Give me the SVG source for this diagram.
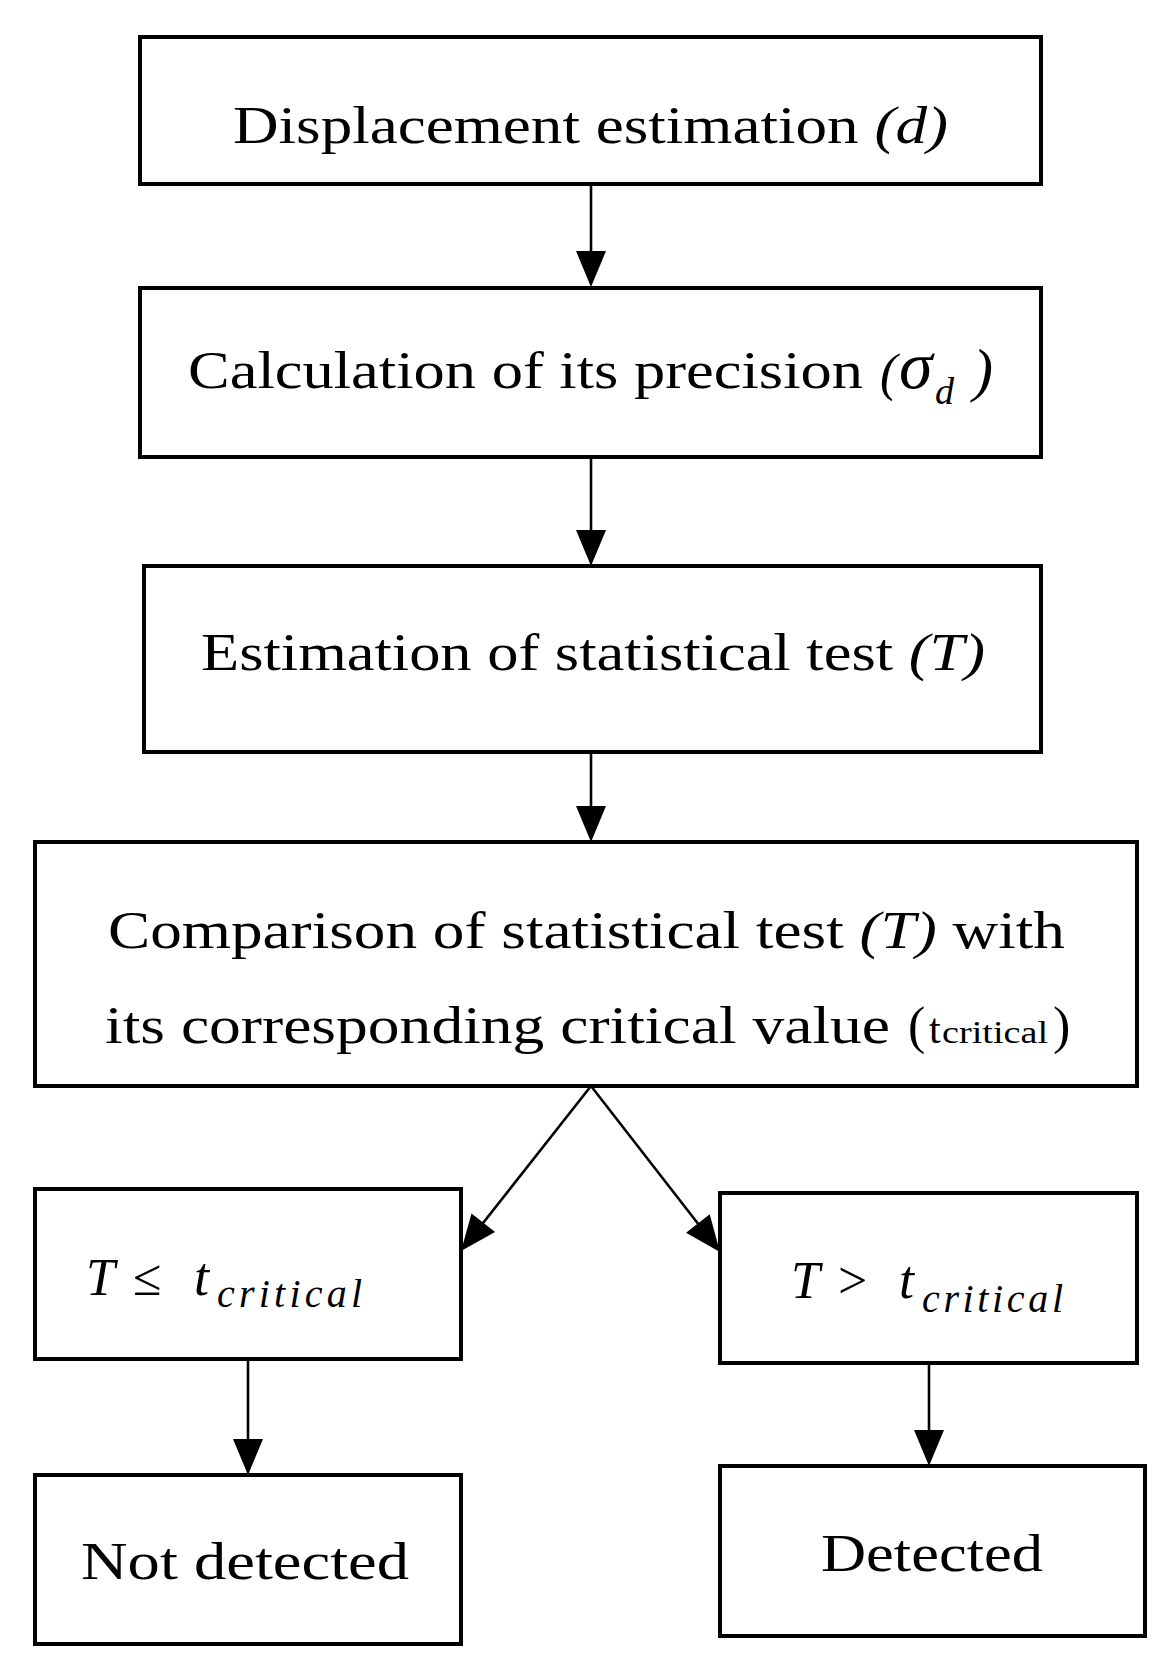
<svg xmlns="http://www.w3.org/2000/svg" width="1176" height="1675" viewBox="0 0 1176 1675">
<style>
.box{fill:#fff;stroke:#000;stroke-width:4}
.t{font-family:"Liberation Serif","DejaVu Serif",serif;font-size:52px;fill:#000}
.i{font-style:italic}
.c{stroke:#000;stroke-width:2.6;fill:none}
</style>
<defs>
<marker id="ah" markerUnits="userSpaceOnUse" viewBox="-40 -20 44 40" refX="-4" refY="0" markerWidth="44" markerHeight="40" orient="auto">
<path d="M0,0 L-36,-15 L-36,15 Z" fill="#000"/>
</marker>
</defs>
<rect width="1176" height="1675" fill="#fff"/>
<g id="connectors">
<line class="c" x1="591" y1="184" x2="591" y2="283" marker-end="url(#ah)"/>
<line class="c" x1="591" y1="457" x2="591" y2="562" marker-end="url(#ah)"/>
<line class="c" x1="591" y1="752" x2="591" y2="838" marker-end="url(#ah)"/>
<line class="c" x1="591" y1="1086" x2="463.5" y2="1247.8" marker-end="url(#ah)"/>
<line class="c" x1="591" y1="1086" x2="717.5" y2="1248.8" marker-end="url(#ah)"/>
<line class="c" x1="248" y1="1359" x2="248" y2="1471" marker-end="url(#ah)"/>
<line class="c" x1="929" y1="1357" x2="929" y2="1462" marker-end="url(#ah)"/>
</g>
<g id="n1">
<rect class="box" x="140" y="37" width="901" height="147"/>
<text class="t" x="233" y="143" textLength="715" lengthAdjust="spacingAndGlyphs">Displacement estimation <tspan class="i">(d)</tspan></text>
</g>
<g id="n2">
<rect class="box" x="140" y="288" width="901" height="169"/>
<text class="t" x="188" y="388" textLength="675" lengthAdjust="spacingAndGlyphs">Calculation of its precision</text>
<text class="t i" x="880" y="390">(<tspan font-size="68" x="899" y="388">σ</tspan><tspan font-size="38" x="935" y="404">d</tspan><tspan font-size="60" x="973" y="390">)</tspan></text>
</g>
<g id="n3">
<rect class="box" x="144" y="566" width="897" height="186"/>
<text class="t" x="201" y="670" textLength="784" lengthAdjust="spacingAndGlyphs">Estimation of statistical test <tspan class="i">(T)</tspan></text>
</g>
<g id="n4">
<rect class="box" x="35" y="842" width="1102" height="244"/>
<text class="t" x="108" y="948" textLength="957" lengthAdjust="spacingAndGlyphs">Comparison of statistical test <tspan class="i">(T)</tspan> with</text>
<text class="t" x="105" y="1043" textLength="785" lengthAdjust="spacingAndGlyphs">its corresponding critical value</text>
<text class="t" x="908" y="1043">(<tspan font-size="42" x="929">t</tspan><tspan font-size="32" x="942" textLength="106" lengthAdjust="spacingAndGlyphs">critical</tspan><tspan x="1053">)</tspan></text>
</g>
<g id="n5">
<rect class="box" x="35" y="1189" width="426" height="170"/>
<text class="t i" x="86" y="1295">T<tspan x="133" font-style="normal">≤</tspan><tspan x="194" font-size="54">t</tspan><tspan x="217" y="1307" font-size="40" textLength="145" lengthAdjust="spacing">critical</tspan></text>
</g>
<g id="n6">
<rect class="box" x="720" y="1193" width="417" height="170"/>
<text class="t i" x="791" y="1298">T<tspan x="838" font-style="normal">&gt;</tspan><tspan x="899" font-size="54">t</tspan><tspan x="922" y="1312" font-size="40" textLength="141" lengthAdjust="spacing">critical</tspan></text>
</g>
<g id="n7">
<rect class="box" x="35" y="1475" width="426" height="169"/>
<text class="t" x="81" y="1579" textLength="328" lengthAdjust="spacingAndGlyphs">Not detected</text>
</g>
<g id="n8">
<rect class="box" x="720" y="1466" width="425" height="170"/>
<text class="t" x="821" y="1571" textLength="222" lengthAdjust="spacingAndGlyphs">Detected</text>
</g>
</svg>
